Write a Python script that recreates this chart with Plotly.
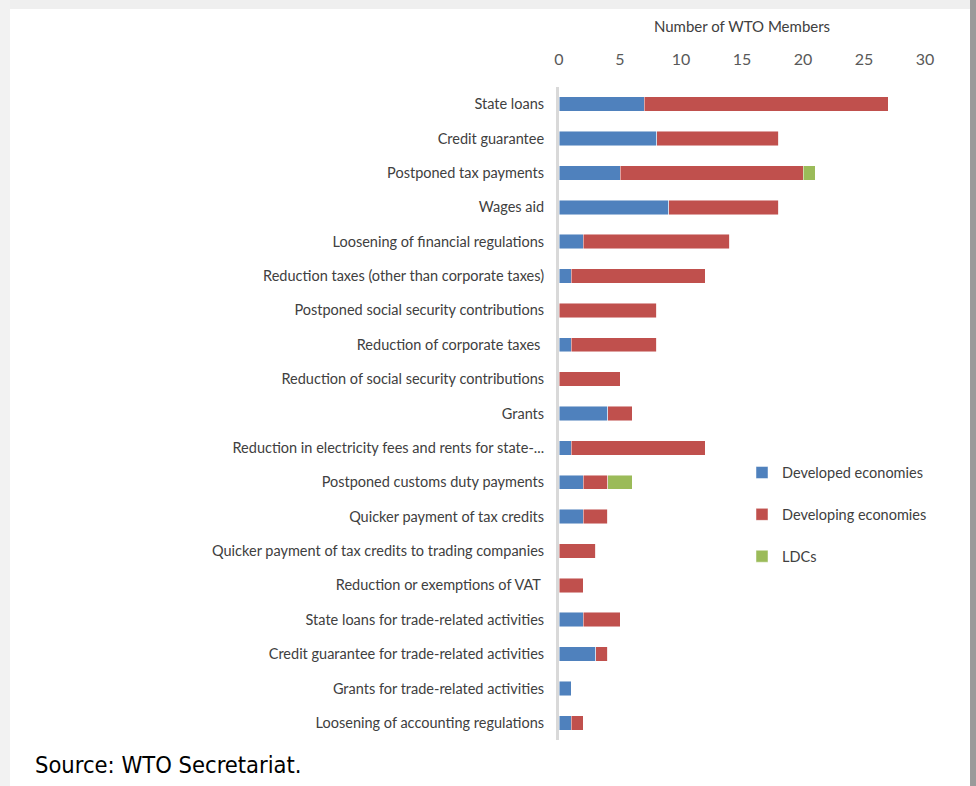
import plotly.graph_objects as go

categories = [
    "State loans",
    "Credit guarantee",
    "Postponed tax payments",
    "Wages aid",
    "Loosening of financial regulations",
    "Reduction taxes (other than corporate taxes)",
    "Postponed social security contributions",
    "Reduction of corporate taxes ",
    "Reduction of social security contributions",
    "Grants",
    "Reduction in electricity fees and rents for state-...",
    "Postponed customs duty payments",
    "Quicker payment of tax credits",
    "Quicker payment of tax credits to trading companies",
    "Reduction or exemptions of VAT ",
    "State loans for trade-related activities",
    "Credit guarantee for trade-related activities",
    "Grants for trade-related activities",
    "Loosening of accounting regulations",
]
developed = [7, 8, 5, 9, 2, 1, 0, 1, 0, 4, 1, 2, 2, 0, 0, 2, 3, 1, 1]
developing = [20, 10, 15, 9, 12, 11, 8, 7, 5, 2, 11, 2, 2, 3, 2, 3, 1, 0, 1]
ldcs = [0, 0, 1, 0, 0, 0, 0, 0, 0, 0, 0, 2, 0, 0, 0, 0, 0, 0, 0]
x_ticks = [0, 5, 10, 15, 20, 25, 30]

LABEL_FONT = "Lato, sans-serif"

fig = go.Figure()
for name, vals, col in [
    ("Developed economies", developed, "#4f81bd"),
    ("Developing economies", developing, "#c0504d"),
    ("LDCs", ldcs, "#9bbb59"),
]:
    fig.add_trace(go.Bar(
        y=categories, x=vals, name=name, orientation="h",
        marker=dict(color=col, line=dict(width=0.8, color="rgba(255,255,255,0.6)")),
        width=0.42, legendgroup=name,
    ))

fig.update_layout(
    barmode="stack",
    width=976, height=786,
    margin=dict(l=559, r=51, t=87, b=46, autoexpand=False),
    paper_bgcolor="white", plot_bgcolor="white",
    font=dict(family=LABEL_FONT, size=14.5, color="#404040"),
    xaxis=dict(
        side="top", range=[0, 30], tickvals=x_ticks, showgrid=False,
        zeroline=False, showline=False, ticks="", ticklabelstandoff=18,
        tickfont=dict(size=16, color="#595959"),
        title=dict(text="Number of WTO Members", font=dict(size=15, color="#404040"), standoff=12),
    ),
    yaxis=dict(
        autorange="reversed", showgrid=False, zeroline=False,
        showline=True, linecolor="#d9d9d9", linewidth=3,
        ticks="", ticklabelstandoff=9,
        tickfont=dict(size=14.5, color="#404040"),
    ),
    legend=dict(
        x=0.5, y=0.434, xanchor="left", yanchor="top",
        font=dict(size=14.5, color="#404040"), tracegroupgap=20,
        itemwidth=30, bgcolor="rgba(0,0,0,0)",
    ),
    bargap=0.58,
)

fig.add_annotation(
    text="Source: WTO Secretariat.", xref="paper", yref="paper",
    x=-1.438, y=-0.038, xanchor="left", yanchor="middle", showarrow=False,
    font=dict(family="DejaVu Sans Condensed, DejaVu Sans, sans-serif", size=23.5, color="#000000"),
)

# screenshot frame shadows
fig.add_shape(type="rect", xref="paper", yref="paper", x0=-1.53, x1=1.14, y0=1.1194, y1=1.14,
              fillcolor="#efefef", line_width=0, layer="below")
fig.add_shape(type="rect", xref="paper", yref="paper", x0=-1.53, x1=-1.5, y0=-0.08, y1=1.14,
              fillcolor="#f2f2f2", line_width=0, layer="below")
fig.add_shape(type="rect", xref="paper", yref="paper", x0=1.123, x1=1.14, y0=-0.08, y1=1.14,
              fillcolor="#9a9a9a", line_width=0, layer="below")

fig.write_html("out.html")
